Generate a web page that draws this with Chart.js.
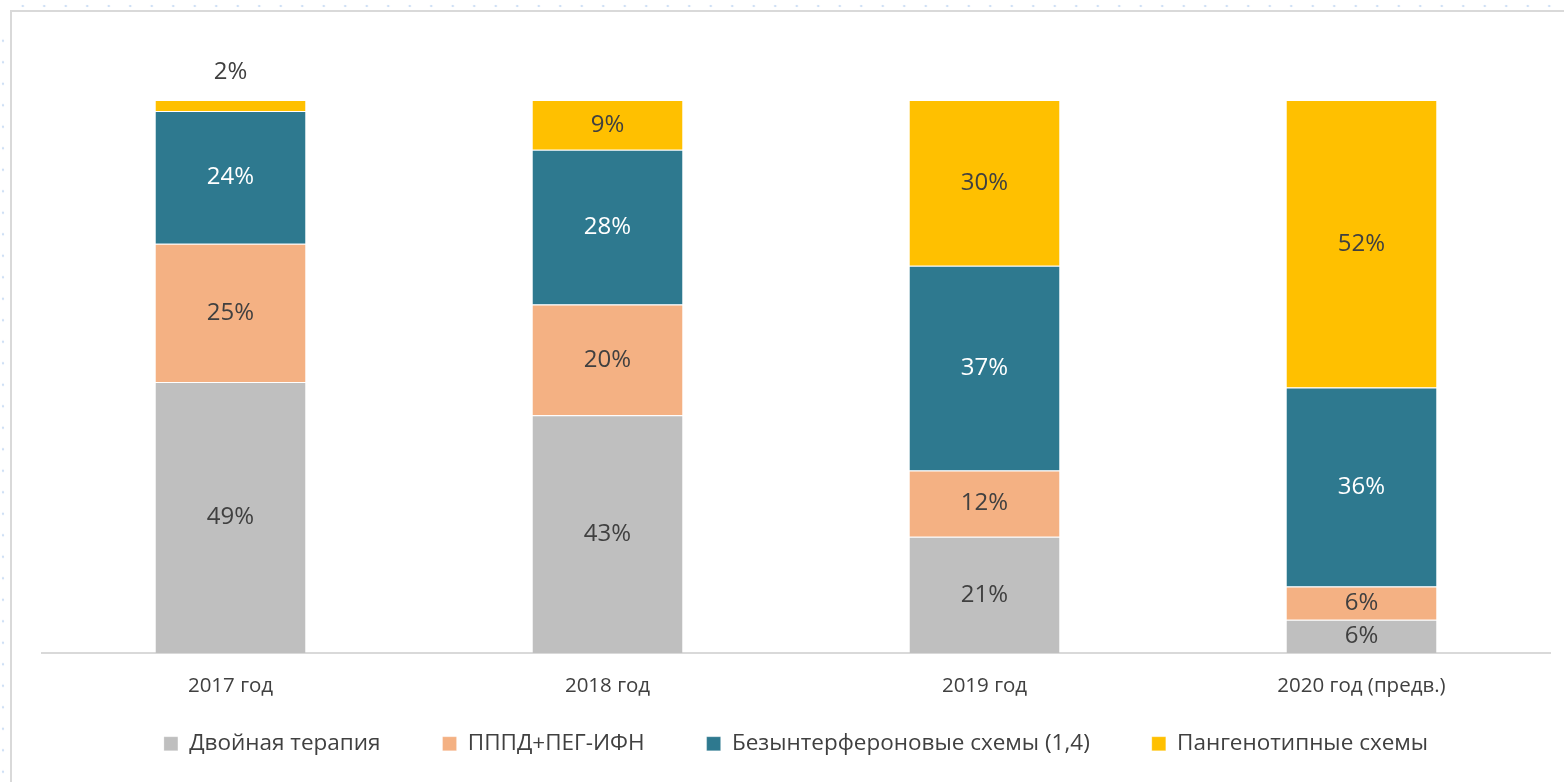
<!DOCTYPE html>
<html>
   <head>
      <meta charset="UTF-8">
      <title>Схемы терапии</title>
      <script src="https://cdn.jsdelivr.net/npm/chart.js@4.4.1/dist/chart.umd.min.js"></script>
      <style>
         body{margin:0;background:#fff;overflow:hidden;}
         #frame{position:absolute;left:10px;top:10px;width:1560px;height:780px;
            border-top:2px solid #d9d9d9;border-left:2px solid #d9d9d9;}
         #dotsTop{position:absolute;left:12px;top:4px;width:1552px;height:4px;
            background-image:radial-gradient(circle,#cfe0f5 1.2px,transparent 1.6px);
            background-size:21.5px 4px;}
         #dotsLeft{position:absolute;left:1px;top:30px;width:4px;height:752px;
            background-image:radial-gradient(circle,#cfe0f5 1.2px,transparent 1.6px);
            background-size:4px 21.5px;}
         #chartBox{position:absolute;left:0;top:0;width:1564px;height:782px;}
      </style>
   </head>
   <body>
        <div id="dotsTop"></div>
        <div id="dotsLeft"></div>
        <div id="frame"></div>
        <div id="chartBox"><canvas id="chart"></canvas></div>

        <script>
            const years=["2017 год","2018 год","2019 год","2020 год (предв.)"];
            const seriesNames=["Двойная терапия","ПППД+ПЕГ-ИФН","Безынтерфероновые схемы (1,4)","Пангенотипные схемы"];
            const dual=[49,43,21,6];
            const dapPeg=[25,20,12,6];
            const ifnFree=[24,28,37,36];
            const pangeno=[2,9,30,52];
            const colors=["#bfbfbf","#f4b183","#2e798f","#ffc000"];
            const labelColors=["#404040","#404040","#ffffff","#404040"];

            const font="'Open Sans', 'Noto Sans', sans-serif";

            // value labels inside the segments, tiny ones above the bar
            const barLabels={
               id:"barLabels",
               afterDatasetsDraw(chart){
                  const ctx=chart.ctx;
                  ctx.save();
                  ctx.font="24px "+font;
                  ctx.textAlign="center";
                  ctx.textBaseline="middle";
                  chart.data.datasets.forEach((ds,di)=>{
                     const meta=chart.getDatasetMeta(di);
                     meta.data.forEach((bar,i)=>{
                        const h=bar.base-bar.y;
                        let y=(bar.y+bar.base)/2;
                        let color=labelColors[di];
                        if(h<20){
                           y=bar.y-28;
                           color="#404040";
                        }
                        ctx.fillStyle=color;
                        ctx.fillText(ds.data[i]+"%",bar.x,y);
                     });
                  });
                  ctx.restore();
               }
            };

            // pull the legend closer to the axis labels
            const legendShift={
               id:"legendShift",
               afterLayout(chart){
                  const lg=chart.legend;
                  lg.top-=41;
                  lg.bottom-=41;
               }
            };

            const values=[dual,dapPeg,ifnFree,pangeno];
            const datasets=seriesNames.map((name,i)=>({
               label:name,
               data:values[i],
               backgroundColor:colors[i],
               borderColor:"#ffffff",
               borderWidth:{top:1,bottom:0,left:0,right:0},
               borderSkipped:false,
               categoryPercentage:1,
               barPercentage:0.398
            }));

            new Chart(document.getElementById("chart"),{
               type:"bar",
               data:{labels:years,datasets},
               plugins:[barLabels,legendShift],
               options:{
                  responsive:true,
                  maintainAspectRatio:false,
                  animation:false,
                  layout:{padding:{left:42,right:14,top:100,bottom:-24}},
                  plugins:{
                     tooltip:{enabled:false},
                     legend:{
                        position:"bottom",
                        labels:{
                           boxWidth:14,
                           boxHeight:14,
                           padding:62,
                           color:"#404040",
                           font:{family:font,size:22.5}
                        }
                     }
                  },
                  scales:{
                     x:{
                        stacked:true,
                        grid:{display:false},
                        border:{color:"#d9d9d9",width:2},
                        ticks:{color:"#404040",padding:13,font:{family:font,size:20.5}}
                     },
                     y:{
                        stacked:true,
                        display:false,
                        min:0,
                        max:100
                     }
                  }
               }
            });
        </script>
   </body>
</html>
